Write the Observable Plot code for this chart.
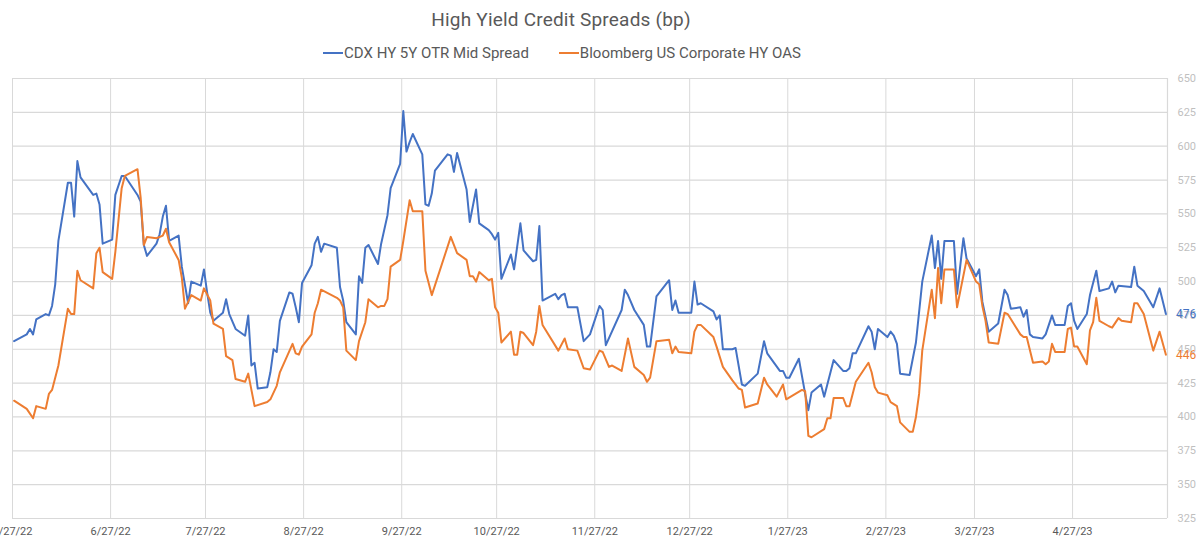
<!DOCTYPE html>
<html><head><meta charset="utf-8">
<script src="https://cdn.jsdelivr.net/npm/d3@7"></script>
<script src="https://cdn.jsdelivr.net/npm/@observablehq/plot@0.6"></script>
<style>
body{margin:0;background:#fff;font-family:Roboto,"Noto Sans",sans-serif;}
#wrap{position:relative;width:1200px;height:545px;overflow:hidden;background:#fff}
#title{position:absolute;left:0;width:1122px;top:8px;text-align:center;font-size:19px;color:#595959;letter-spacing:0.2px}
#legend{position:absolute;left:0;width:1124px;top:44px;text-align:center;font-size:15px;color:#595959;white-space:nowrap}
.item{display:inline-block;margin:0 15px}
.sw{display:inline-block;width:20px;height:2px;vertical-align:middle;margin-right:1px;position:relative;top:-1px}
#chart{position:absolute;top:66px;left:0}
</style>
</head><body>
<div id="wrap">
<div id="title">High Yield Credit Spreads (bp)</div>
<div id="legend"><span class="item"><span class="sw" style="background:#4472C4"></span>CDX HY 5Y OTR Mid Spread</span><span class="item"><span class="sw" style="background:#ED7D31"></span>Bloomberg US Corporate HY OAS</span></div>
<div id="chart"></div>
</div>
<script>
const seriesNames = ["CDX HY 5Y OTR Mid Spread", "Bloomberg US Corporate HY OAS"];

const cdxDates = ["2022-05-27","2022-05-31","2022-06-01","2022-06-02","2022-06-03","2022-06-06","2022-06-07","2022-06-08","2022-06-09","2022-06-10","2022-06-13","2022-06-14","2022-06-15","2022-06-16","2022-06-17","2022-06-21","2022-06-22","2022-06-23","2022-06-24","2022-06-27","2022-06-28","2022-06-30","2022-07-01","2022-07-05","2022-07-06","2022-07-07","2022-07-08","2022-07-11","2022-07-12","2022-07-13","2022-07-14","2022-07-15","2022-07-18","2022-07-19","2022-07-21","2022-07-22","2022-07-25","2022-07-26","2022-07-27","2022-07-28","2022-07-29","2022-08-01","2022-08-02","2022-08-03","2022-08-05","2022-08-08","2022-08-09","2022-08-10","2022-08-11","2022-08-12","2022-08-15","2022-08-16","2022-08-17","2022-08-18","2022-08-19","2022-08-22","2022-08-23","2022-08-24","2022-08-25","2022-08-26","2022-08-29","2022-08-30","2022-08-31","2022-09-01","2022-09-02","2022-09-06","2022-09-07","2022-09-08","2022-09-09","2022-09-12","2022-09-13","2022-09-14","2022-09-15","2022-09-16","2022-09-19","2022-09-20","2022-09-22","2022-09-23","2022-09-26","2022-09-27","2022-09-28","2022-09-29","2022-09-30","2022-10-03","2022-10-04","2022-10-05","2022-10-06","2022-10-07","2022-10-11","2022-10-12","2022-10-13","2022-10-14","2022-10-17","2022-10-18","2022-10-20","2022-10-21","2022-10-24","2022-10-25","2022-10-26","2022-10-27","2022-10-28","2022-10-31","2022-11-01","2022-11-03","2022-11-04","2022-11-07","2022-11-08","2022-11-09","2022-11-10","2022-11-14","2022-11-15","2022-11-16","2022-11-17","2022-11-18","2022-11-21","2022-11-23","2022-11-25","2022-11-28","2022-11-29","2022-11-30","2022-12-05","2022-12-06","2022-12-07","2022-12-09","2022-12-12","2022-12-13","2022-12-14","2022-12-16","2022-12-20","2022-12-21","2022-12-22","2022-12-23","2022-12-27","2022-12-28","2022-12-29","2022-12-30","2023-01-03","2023-01-04","2023-01-05","2023-01-06","2023-01-09","2023-01-10","2023-01-12","2023-01-13","2023-01-17","2023-01-19","2023-01-20","2023-01-24","2023-01-25","2023-01-26","2023-01-27","2023-01-30","2023-02-01","2023-02-02","2023-02-03","2023-02-06","2023-02-07","2023-02-10","2023-02-13","2023-02-14","2023-02-15","2023-02-16","2023-02-17","2023-02-21","2023-02-22","2023-02-23","2023-02-24","2023-02-27","2023-02-28","2023-03-01","2023-03-02","2023-03-03","2023-03-06","2023-03-08","2023-03-10","2023-03-13","2023-03-14","2023-03-15","2023-03-16","2023-03-17","2023-03-20","2023-03-21","2023-03-23","2023-03-24","2023-03-27","2023-03-28","2023-03-29","2023-03-31","2023-04-03","2023-04-05","2023-04-06","2023-04-07","2023-04-10","2023-04-11","2023-04-12","2023-04-13","2023-04-14","2023-04-17","2023-04-18","2023-04-20","2023-04-21","2023-04-24","2023-04-25","2023-04-26","2023-04-27","2023-04-28","2023-05-01","2023-05-02","2023-05-04","2023-05-05","2023-05-08","2023-05-09","2023-05-10","2023-05-11","2023-05-15","2023-05-16","2023-05-17","2023-05-19","2023-05-22","2023-05-24","2023-05-26"];
const cdxValues = [456,461,465,461,472,476,475,482,498,530,573,573,548,589,577,564,565,557,528,531,564,578,578,564,559,527,519,528,535,548,556,530,534,511,484,500,497,509,492,477,471,477,487,476,465,460,475,438,440,421,422,433,450,448,471,492,491,481,470,499,512,528,533,522,528,525,496,486,470,461,504,499,525,527,513,528,549,569,587,626,596,603,609,594,557,556,565,582,594,593,581,595,568,544,568,543,538,535,531,536,502,520,509,543,523,515,516,541,486,491,487,490,491,481,481,456,461,482,479,453,479,494,490,479,468,452,452,489,501,479,486,477,477,500,483,484,478,472,475,450,450,451,424,423,432,456,447,434,434,429,429,443,417,405,418,424,415,442,434,434,436,447,447,467,463,450,465,459,463,460,454,432,431,455,500,534,510,530,502,530,530,491,532,517,504,509,485,463,469,494,490,480,481,474,479,461,459,458,461,475,468,468,482,484,471,465,476,490,508,493,495,500,492,497,496,511,497,493,481,495,476];

const hyDates = ["2022-05-27","2022-05-31","2022-06-02","2022-06-03","2022-06-06","2022-06-07","2022-06-08","2022-06-10","2022-06-13","2022-06-14","2022-06-15","2022-06-16","2022-06-17","2022-06-21","2022-06-22","2022-06-23","2022-06-24","2022-06-27","2022-06-28","2022-06-30","2022-07-01","2022-07-05","2022-07-06","2022-07-07","2022-07-08","2022-07-11","2022-07-13","2022-07-14","2022-07-15","2022-07-18","2022-07-19","2022-07-20","2022-07-22","2022-07-25","2022-07-26","2022-07-28","2022-07-29","2022-08-01","2022-08-02","2022-08-04","2022-08-05","2022-08-08","2022-08-09","2022-08-11","2022-08-15","2022-08-16","2022-08-18","2022-08-19","2022-08-23","2022-08-24","2022-08-25","2022-08-26","2022-08-29","2022-08-30","2022-08-31","2022-09-01","2022-09-06","2022-09-07","2022-09-08","2022-09-09","2022-09-12","2022-09-13","2022-09-15","2022-09-16","2022-09-19","2022-09-20","2022-09-21","2022-09-22","2022-09-23","2022-09-26","2022-09-27","2022-09-29","2022-09-30","2022-10-03","2022-10-04","2022-10-06","2022-10-12","2022-10-14","2022-10-17","2022-10-18","2022-10-19","2022-10-20","2022-10-21","2022-10-24","2022-10-25","2022-10-26","2022-10-27","2022-10-28","2022-10-31","2022-11-01","2022-11-02","2022-11-03","2022-11-04","2022-11-07","2022-11-08","2022-11-09","2022-11-10","2022-11-15","2022-11-17","2022-11-18","2022-11-21","2022-11-23","2022-11-25","2022-11-28","2022-11-29","2022-12-01","2022-12-02","2022-12-05","2022-12-07","2022-12-09","2022-12-12","2022-12-13","2022-12-14","2022-12-16","2022-12-20","2022-12-21","2022-12-22","2022-12-23","2022-12-27","2022-12-28","2022-12-29","2022-12-30","2023-01-03","2023-01-04","2023-01-06","2023-01-09","2023-01-11","2023-01-12","2023-01-13","2023-01-17","2023-01-19","2023-01-20","2023-01-23","2023-01-25","2023-01-26","2023-01-31","2023-02-01","2023-02-02","2023-02-03","2023-02-07","2023-02-08","2023-02-09","2023-02-10","2023-02-13","2023-02-14","2023-02-15","2023-02-17","2023-02-21","2023-02-22","2023-02-23","2023-02-24","2023-02-27","2023-02-28","2023-03-02","2023-03-03","2023-03-06","2023-03-07","2023-03-08","2023-03-09","2023-03-10","2023-03-13","2023-03-14","2023-03-15","2023-03-16","2023-03-17","2023-03-20","2023-03-21","2023-03-24","2023-03-27","2023-03-28","2023-03-29","2023-03-30","2023-03-31","2023-04-03","2023-04-05","2023-04-06","2023-04-10","2023-04-11","2023-04-12","2023-04-14","2023-04-17","2023-04-18","2023-04-19","2023-04-20","2023-04-21","2023-04-24","2023-04-25","2023-04-26","2023-04-27","2023-04-28","2023-05-01","2023-05-02","2023-05-03","2023-05-04","2023-05-05","2023-05-08","2023-05-09","2023-05-11","2023-05-12","2023-05-15","2023-05-16","2023-05-17","2023-05-19","2023-05-22","2023-05-24","2023-05-26"];
const hyValues = [412,406,399,408,406,417,420,438,480,476,476,508,501,495,521,525,507,502,522,569,578,583,562,527,533,532,534,539,529,516,503,480,490,486,495,486,469,465,445,442,428,426,432,408,411,413,423,433,454,447,446,452,461,477,484,494,488,486,481,449,442,456,470,487,481,482,482,487,511,516,530,560,552,552,508,490,533,521,516,504,504,500,507,501,502,481,477,455,463,446,446,463,462,453,463,482,468,449,458,450,449,436,435,449,448,437,438,434,458,437,431,426,429,456,457,447,452,448,447,463,468,468,459,452,437,427,421,420,407,410,429,424,415,424,413,420,419,386,385,391,399,399,414,414,408,408,426,440,433,422,418,416,411,408,396,389,389,400,417,449,494,473,510,484,509,509,481,516,500,498,482,471,455,454,477,476,461,459,459,440,441,439,441,454,448,448,465,466,452,452,439,464,470,488,471,467,466,473,471,470,484,484,476,449,463,446];

const xTickDates = ["2022-05-27","2022-06-27","2022-07-27","2022-08-27","2022-09-27","2022-10-27","2022-11-27","2022-12-27","2023-01-27","2023-02-27","2023-03-27","2023-04-27"];
const yTickValues = [325,350,375,400,425,450,475,500,525,550,575,600,625,650];
const axisStart = "2022-05-27", axisEnd = "2023-05-27";

const parse = s => new Date(s + "T00:00:00Z");
const midDay = d => new Date(+d + 12 * 3600 * 1000); // Excel date axis puts each day mid-slot
const cdx = cdxDates.map((d, i) => ({date: midDay(parse(d)), value: cdxValues[i], series: seriesNames[0]}));
const hy = hyDates.map((d, i) => ({date: midDay(parse(d)), value: hyValues[i], series: seriesNames[1]}));
const xTicks = xTickDates.map(parse);
const blue = "#4472C4", orange = "#ED7D31", grid = "#d9d9d9";

const chart = Plot.plot({
  width: 1200,
  height: 479,
  marginTop: 12,
  marginBottom: 27,
  marginLeft: 12,
  marginRight: 33,
  style: {fontFamily: "Roboto, 'Noto Sans', sans-serif", background: "#fff", overflow: "hidden"},
  x: {type: "utc", domain: [parse(axisStart), parse(axisEnd)], label: null},
  y: {domain: [325, 650], label: null},
  marks: [
    Plot.gridY(yTickValues, {stroke: grid, strokeOpacity: 1, strokeWidth: 1.2}),
    Plot.gridX(xTicks, {stroke: grid, strokeOpacity: 1, strokeWidth: 1}),
    Plot.ruleX([parse(axisEnd)], {stroke: grid, strokeWidth: 1.2, y1: 325, y2: 650}),
    Plot.axisY(yTickValues, {anchor: "right", label: null, tickSize: 0, tickPadding: 10, fill: "#bfbfbf", fontSize: 11}),
    Plot.axisX(xTicks, {label: null, tickSize: 0, tickPadding: 9, tickFormat: d3.utcFormat("%-m/%-d/%y"), fill: "#595959", fontSize: 11}),
    Plot.line(cdx, {x: "date", y: "value", stroke: blue, strokeWidth: 2}),
    Plot.line(hy, {x: "date", y: "value", stroke: orange, strokeWidth: 2}),
    Plot.text([cdx[cdx.length - 1]], {x: "date", y: "value", text: d => String(d.value), dx: 10, textAnchor: "start", fill: blue, fontSize: 12}),
    Plot.text([hy[hy.length - 1]], {x: "date", y: "value", text: d => String(d.value), dx: 10, textAnchor: "start", fill: orange, fontSize: 12})
  ]
});
document.getElementById("chart").appendChild(chart);
</script>
</body></html>
